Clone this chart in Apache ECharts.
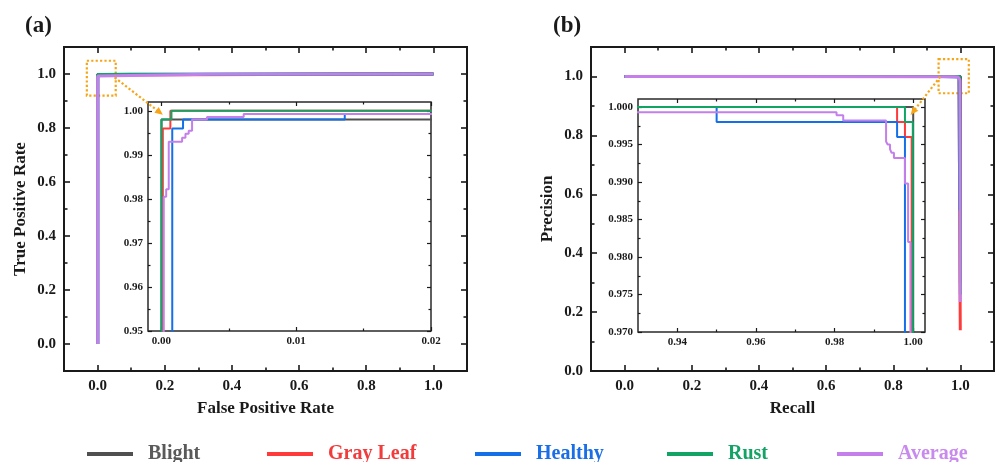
<!DOCTYPE html>
<html>
<head>
<meta charset="utf-8">
<script src="https://cdn.jsdelivr.net/npm/echarts@6/dist/echarts.min.js"></script>
<style>
  html, body { margin: 0; padding: 0; background: #fff; }
  #chart { width: 995px; height: 462px; }
</style>
</head>
<body>
<div id="chart"></div>
<script>
// ---- class names ----
const classNames = ['Blight', 'Gray Leaf', 'Healthy', 'Rust', 'Average'];

// ---- ROC curves: [false positive rate, true positive rate] ----
const rocBlight = [[0, 0], [0, 0.998], [0.335, 0.998], [0.335, 1], [1, 1]];
const rocGrayLeaf = [[0.0001, 0], [0.0001, 0.996], [0.00066, 0.996], [0.00066, 1], [1, 1]];
const rocHealthy = [[0.0008, 0], [0.0008, 0.996], [0.0016, 0.996], [0.0016, 0.998], [0.0136, 0.998],
  [0.0136, 0.9993], [0.1, 0.9993], [0.1, 1], [1, 1]];
const rocRust = [[0, 0], [0, 0.998], [0.00074, 0.998], [0.00074, 1], [1, 1]];
const rocAverage = [[0.00017, 0], [0.00017, 0.9805], [0.00035, 0.9805], [0.00035, 0.9822], [0.00054, 0.9822],
  [0.00054, 0.993], [0.00153, 0.993], [0.00153, 0.9939], [0.00178, 0.9939], [0.00178, 0.9948],
  [0.00202, 0.9948], [0.00202, 0.9955], [0.00227, 0.9955], [0.00227, 0.998], [0.00338, 0.998],
  [0.00338, 0.9986], [0.0061, 0.9986], [0.0061, 0.9993], [0.335, 0.9993], [0.335, 1], [1, 1]];

// ---- PR curves: [recall, precision] ----
const prBlight = [[0, 1], [1, 1], [1, 0.3]];
const prGrayLeaf = [[0, 1], [0.9959, 1], [0.9959, 0.998], [0.9979, 0.998], [0.9979, 0.996],
  [0.9996, 0.996], [0.9996, 0.138]];
const prHealthy = [[0, 1], [0.95, 1], [0.95, 0.998], [0.9959, 0.998], [0.9959, 0.996],
  [0.9979, 0.996], [0.9979, 0.546]];
const prRust = [[0, 1], [0.9979, 1], [0.9979, 0.998], [0.9999, 0.998], [0.9999, 0.26]];
const prAverage = [[0, 1], [0.275, 1], [0.275, 0.9993], [0.9805, 0.9993], [0.9805, 0.9989],
  [0.9822, 0.9989], [0.9822, 0.9982], [0.9931, 0.9982], [0.9931, 0.9954], [0.9935, 0.9954],
  [0.9935, 0.995], [0.9941, 0.995], [0.9941, 0.9944], [0.9945, 0.9944], [0.9945, 0.9939],
  [0.9951, 0.9939], [0.9951, 0.9932], [0.9979, 0.9932], [0.9979, 0.9898], [0.9987, 0.9898],
  [0.9987, 0.982], [0.9993, 0.982], [0.9993, 0.234]];

// ---- tick values ----
const mainTicks = [0, 0.2, 0.4, 0.6, 0.8, 1.0];
const mainMinorTicks = [0.1, 0.3, 0.5, 0.7, 0.9];
const rocInsetXTicks = [0, 0.01, 0.02];
const rocInsetXMinor = [0.005, 0.015];
const rocInsetYTicks = [0.95, 0.96, 0.97, 0.98, 0.99, 1.00];
const rocInsetYMinor = [0.955, 0.965, 0.975, 0.985, 0.995];
const prInsetXTicks = [0.94, 0.96, 0.98, 1.00];
const prInsetXMinor = [0.95, 0.97, 0.99];
const prInsetYTicks = [0.970, 0.975, 0.980, 0.985, 0.990, 0.995, 1.000];
const prInsetYMinor = [0.9725, 0.9775, 0.9825, 0.9875, 0.9925, 0.9975];

const rocData = [rocBlight, rocGrayLeaf, rocHealthy, rocRust, rocAverage];
const prData = [prBlight, prGrayLeaf, prHealthy, prRust, prAverage];

const lineColors = ['#505050', '#ff3a3a', '#1570e8', '#12a465', '#c47fea'];
const textColors = ['#5a5a5a', '#f23c3c', '#1a6fe6', '#14a366', '#c98aee'];
const ORANGE = '#f7a416';
const SERIF = '"Liberation Serif", "Times New Roman", "DejaVu Serif", serif';
const INK = '#1a1a1a';

// Four axes per side pair: bottom/left major (labels + name), its minor ticks,
// then top/right major and minor ticks.
function axisSet(dim, gridIndex, range, majors, minors, fmt, look) {
  const sides = dim === 'x' ? ['bottom', 'top'] : ['left', 'right'];
  const out = [];
  sides.forEach((pos, s) => {
    [majors, minors].forEach((vals, k) => {
      const primary = s === 0 && k === 0;
      out.push({
        type: 'value',
        gridIndex: gridIndex,
        position: pos,
        min: range[0],
        max: range[1],
        axisLine: { show: false, onZero: false },
        splitLine: { show: false },
        axisTick: {
          show: true, inside: true,
          length: k === 0 ? look.major : look.minor,
          customValues: vals,
          lineStyle: { color: INK, width: look.tickWidth }
        },
        axisLabel: primary ? {
          show: true, customValues: vals, formatter: fmt, margin: look.margin,
          color: INK, fontFamily: SERIF, fontWeight: 'bold', fontSize: look.font
        } : { show: false },
        name: primary ? (look.name || '') : '',
        nameLocation: 'middle',
        nameGap: look.nameGap,
        nameTextStyle: { color: INK, fontFamily: SERIF, fontWeight: 'bold', fontSize: 17 }
      });
    });
  });
  return out;
}

const f1 = v => v.toFixed(1);
const f2 = v => v.toFixed(2);
const f3 = v => v.toFixed(3);

const mainLook = { major: 6, minor: 3.5, tickWidth: 1.6, margin: 8, font: 15, nameGap: 30 };
const insetLook = { major: 4, minor: 2.5, tickWidth: 1.2, margin: 5, font: 11, nameGap: 20 };

const xAxes = [].concat(
  axisSet('x', 0, [-0.1, 1.1], mainTicks, mainMinorTicks, f1, Object.assign({}, mainLook, { name: 'False Positive Rate', nameGap: 29 })),
  axisSet('x', 1, [-0.001, 0.02], rocInsetXTicks, rocInsetXMinor, f2, insetLook),
  axisSet('x', 2, [-0.1, 1.1], mainTicks, mainMinorTicks, f1, Object.assign({}, mainLook, { name: 'Recall', nameGap: 29 })),
  axisSet('x', 3, [0.93, 1.003], prInsetXTicks, prInsetXMinor, f2, insetLook)
);
const yAxes = [].concat(
  axisSet('y', 0, [-0.1, 1.1], mainTicks, mainMinorTicks, f1, Object.assign({}, mainLook, { name: 'True Positive Rate', nameGap: 35 })),
  axisSet('y', 1, [0.95, 1.002], rocInsetYTicks, rocInsetYMinor, f2, insetLook),
  axisSet('y', 2, [0, 1.1], mainTicks, mainMinorTicks, f1, Object.assign({}, mainLook, { name: 'Precision', nameGap: 35 })),
  axisSet('y', 3, [0.97, 1.00107], prInsetYTicks, prInsetYMinor, f3, insetLook)
);

// Zoom marker (dotted box + arrow) for a main panel
function zoomMarks(box, arrow) {
  return {
    markArea: {
      silent: true,
      itemStyle: { color: 'rgba(0,0,0,0)', borderColor: ORANGE, borderWidth: 2.2, borderType: [2.2, 2.2] },
      label: { show: false },
      data: [[{ coord: box[0] }, { coord: box[1] }]]
    },
    markLine: {
      silent: true,
      symbol: ['none', 'triangle'],
      symbolSize: [7, 8],
      label: { show: false },
      lineStyle: { color: ORANGE, width: 2.2, type: [2.2, 2.2] },
      itemStyle: { color: ORANGE },
      data: [[{ coord: arrow[0] }, { coord: arrow[1] }]]
    }
  };
}

const series = [];
function addPanel(gridIndex, dataSets, width, marks) {
  dataSets.forEach((d, i) => {
    const s = {
      type: 'line',
      name: classNames[i],
      xAxisIndex: gridIndex * 4,
      yAxisIndex: gridIndex * 4,
      data: d,
      showSymbol: false,
      symbol: 'none',
      clip: true,
      color: lineColors[i],
      lineStyle: { color: lineColors[i], width: width },
      z: 2 + i * 0.1,
      animation: false
    };
    if (marks && i === dataSets.length - 1) Object.assign(s, marks);
    series.push(s);
  });
}
addPanel(0, rocData, 3, zoomMarks([[-0.032, 1.049], [0.054, 0.92]], [[0.051, 0.987], [0.185, 0.858]]));
addPanel(1, rocData, 2);
addPanel(2, prData, 3, zoomMarks([[0.935, 1.059], [1.025, 0.943]], [[0.94, 0.999], [0.859, 0.88]]));
addPanel(3, prData, 2);

const legendLeft = [87, 267, 475, 667, 837];

const option = {
  animation: false,
  backgroundColor: '#fff',
  title: [
    { text: '(a)', left: 25, top: 15, padding: 0, textStyle: { fontFamily: SERIF, fontSize: 23, fontWeight: 'bold', color: INK } },
    { text: '(b)', left: 553, top: 15, padding: 0, textStyle: { fontFamily: SERIF, fontSize: 23, fontWeight: 'bold', color: INK } }
  ],
  legend: classNames.map((n, i) => ({
    data: [{ name: n, textStyle: { color: textColors[i] } }],
    left: legendLeft[i],
    top: 444,
    padding: 0,
    icon: 'rect',
    itemWidth: 46,
    itemHeight: 4,
    selectedMode: false,
    textStyle: { fontFamily: SERIF, fontSize: 20, fontWeight: 'bold', padding: [0, 0, 0, 10] }
  })),
  grid: [
    { left: 64, top: 47, width: 403, height: 324, show: true, borderColor: INK, borderWidth: 2, backgroundColor: 'rgba(0,0,0,0)' },
    { left: 148, top: 102, width: 283, height: 229, show: true, borderColor: '#2a2a2a', borderWidth: 1.5, backgroundColor: '#fff' },
    { left: 591, top: 47, width: 403, height: 324, show: true, borderColor: INK, borderWidth: 2, backgroundColor: 'rgba(0,0,0,0)' },
    { left: 638, top: 99, width: 287, height: 233, show: true, borderColor: '#2a2a2a', borderWidth: 1.5, backgroundColor: '#fff' }
  ],
  xAxis: xAxes,
  yAxis: yAxes,
  series: series
};

const chart = echarts.init(document.getElementById('chart'), null, { renderer: 'canvas' });
chart.setOption(option);
</script>
</body>
</html>
